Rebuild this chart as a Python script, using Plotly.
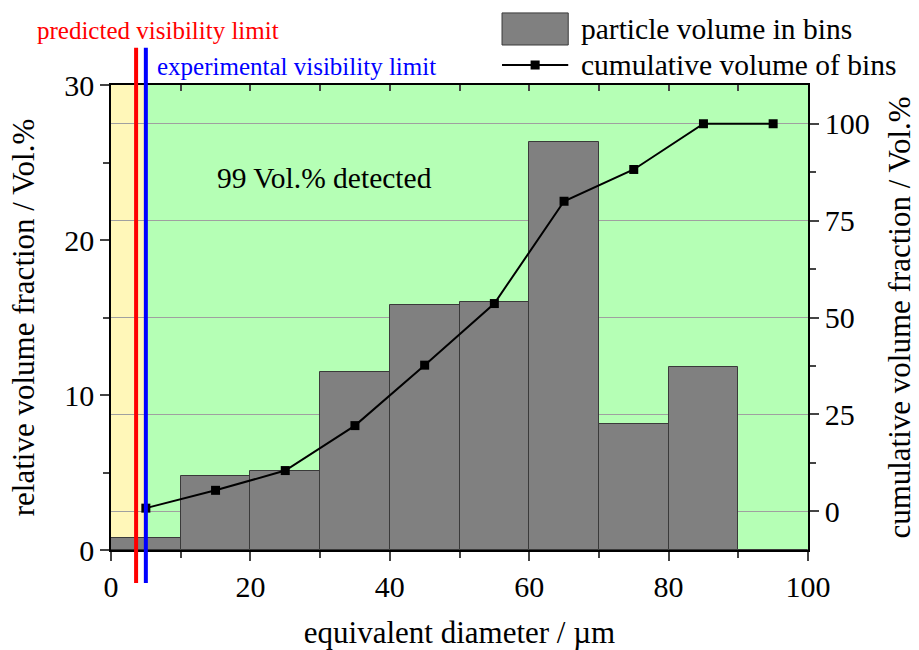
import plotly.graph_objects as go

# ---- data ----
bin_centers = [5, 15, 25, 35, 45, 55, 65, 75, 85, 95]
bin_volume = [0.8, 4.8, 5.1, 11.5, 15.8, 16.0, 26.3, 8.1, 11.8, 0.0]
cumulative_volume = [0.8, 5.4, 10.5, 22.1, 37.7, 53.6, 80.0, 88.2, 100.0, 100.0]
x_ticks = [0, 20, 40, 60, 80, 100]
y_left_ticks = [0, 10, 20, 30]
y_right_ticks = [0, 25, 50, 75, 100]
predicted_limit = 3.6
experimental_limit = 5.0

FONT = "Liberation Serif"
YELLOW = "#fff7b9"
GREEN = "#b5ffb5"

fig = go.Figure()

fig.add_trace(go.Bar(
    x=bin_centers, y=bin_volume, width=10,
    marker=dict(color="#808080", line=dict(color="#3a3a3a", width=1)),
    name="particle volume in bins", showlegend=False, xaxis="x", yaxis="y",
))
fig.add_trace(go.Scatter(
    x=bin_centers, y=cumulative_volume, mode="lines+markers",
    line=dict(color="black", width=2),
    marker=dict(symbol="square", size=9, color="black"),
    name="cumulative volume of bins", showlegend=False, xaxis="x", yaxis="y2",
))
# invisible trace for the top mirror axis
fig.add_trace(go.Scatter(x=[0, 100], y=[0, 0], mode="lines", line=dict(width=0),
                         opacity=0, showlegend=False, hoverinfo="skip",
                         xaxis="x2", yaxis="y"))

shapes = [
    dict(type="rect", xref="x", yref="paper", x0=0, x1=experimental_limit, y0=0, y1=1,
         fillcolor=YELLOW, line=dict(width=0), layer="below"),
    dict(type="rect", xref="x", yref="paper", x0=experimental_limit, x1=100, y0=0, y1=1,
         fillcolor=GREEN, line=dict(width=0), layer="below"),
    dict(type="line", xref="x", yref="paper", x0=predicted_limit, x1=predicted_limit,
         y0=-0.071, y1=1.08, line=dict(color="#ff0000", width=4), layer="above"),
    dict(type="line", xref="x", yref="paper", x0=experimental_limit, x1=experimental_limit,
         y0=-0.071, y1=1.08, line=dict(color="#0000ff", width=4), layer="above"),
    # manual legend
    dict(type="rect", xref="paper", yref="paper", x0=0.561, x1=0.656, y0=1.086, y1=1.155,
         fillcolor="#808080", line=dict(color="#3a3a3a", width=1)),
    dict(type="line", xref="paper", yref="paper", x0=0.561, x1=0.656, y0=1.043, y1=1.043,
         line=dict(color="black", width=2)),
    dict(type="rect", xref="paper", yref="paper", x0=0.6020, x1=0.6150, y0=1.0333, y1=1.0527,
         fillcolor="black", line=dict(width=0)),
]

annotations = [
    dict(text="predicted visibility limit", xref="paper", yref="paper",
         x=(158 - 110.7) / 697.3, y=(550 - 30) / 465, showarrow=False,
         font=dict(family=FONT, size=25, color="#ff0000"), xanchor="center", yanchor="middle"),
    dict(text="experimental visibility limit", xref="paper", yref="paper",
         x=(155 - 110.7) / 697.3, y=(550 - 67) / 465, showarrow=False,
         font=dict(family=FONT, size=25, color="#0000ff"), xanchor="left", yanchor="middle"),
    dict(text="99 Vol.% detected", xref="x", yref="y", x=30.7, y=24.0, showarrow=False,
         font=dict(family=FONT, size=29.5, color="black"), xanchor="center", yanchor="middle"),
    dict(text="particle volume in bins", xref="paper", yref="paper",
         x=(579 - 110.7) / 697.3, y=(550 - 29) / 465, showarrow=False,
         font=dict(family=FONT, size=29.5, color="black"), xanchor="left", yanchor="middle"),
    dict(text="cumulative volume of bins", xref="paper", yref="paper",
         x=(579 - 110.7) / 697.3, y=(550 - 65) / 465, showarrow=False,
         font=dict(family=FONT, size=29.5, color="black"), xanchor="left", yanchor="middle"),
]

tick_font = dict(family=FONT, size=30, color="black")
title_font = dict(family=FONT, size=31, color="black")

fig.update_layout(
    width=919, height=650,
    margin=dict(l=111, r=111, t=85, b=100),
    paper_bgcolor="white", plot_bgcolor="rgba(0,0,0,0)",
    bargap=0, showlegend=False,
    font=dict(family=FONT, size=28, color="black"),
    shapes=shapes, annotations=annotations,
    xaxis=dict(
        range=[0, 100], tickvals=x_ticks, ticks="outside", ticklen=9, tickwidth=1.5,
        showline=True, linecolor="black", linewidth=1.5, showgrid=False, zeroline=False,
        tickfont=tick_font, automargin=False,
        minor=dict(tickvals=[10, 30, 50, 70, 90], ticks="outside", ticklen=6,
                   tickwidth=1.5, showgrid=False),
        title=dict(text="equivalent diameter / µm", font=title_font, standoff=20),
    ),
    xaxis2=dict(
        range=[0, 100], overlaying="x", side="top", anchor="y",
        tickvals=[10, 20, 30, 40, 50, 60, 70, 80, 90], ticks="inside", ticklen=6, tickwidth=1.5,
        showticklabels=False, showline=True, linecolor="black", linewidth=1.5,
        showgrid=False, zeroline=False, automargin=False,
    ),
    yaxis=dict(
        range=[0, 30], tickvals=y_left_ticks, ticks="outside", ticklen=9, tickwidth=1.5,
        showline=True, linecolor="black", linewidth=1.5, showgrid=False, zeroline=False,
        tickfont=tick_font, automargin=False,
        minor=dict(tickvals=[5, 15, 25], ticks="outside", ticklen=6, tickwidth=1.5, showgrid=False),
        title=dict(text="relative volume fraction / Vol.%", font=title_font, standoff=20),
    ),
    yaxis2=dict(
        range=[-10, 110], overlaying="y", side="right", anchor="x",
        tickvals=y_right_ticks, ticks="outside", ticklen=9, tickwidth=1.5,
        showline=True, linecolor="black", linewidth=1.5,
        showgrid=True, gridcolor="#a0a0a0", gridwidth=1, zeroline=False,
        tickfont=tick_font, automargin=False,
        minor=dict(tickvals=[12.5, 37.5, 62.5, 87.5], ticks="outside", ticklen=6,
                   tickwidth=1.5, showgrid=False),
        title=dict(text="cumulative volume fraction / Vol.%", font=title_font, standoff=20),
    ),
)

fig.write_html("out.html")
